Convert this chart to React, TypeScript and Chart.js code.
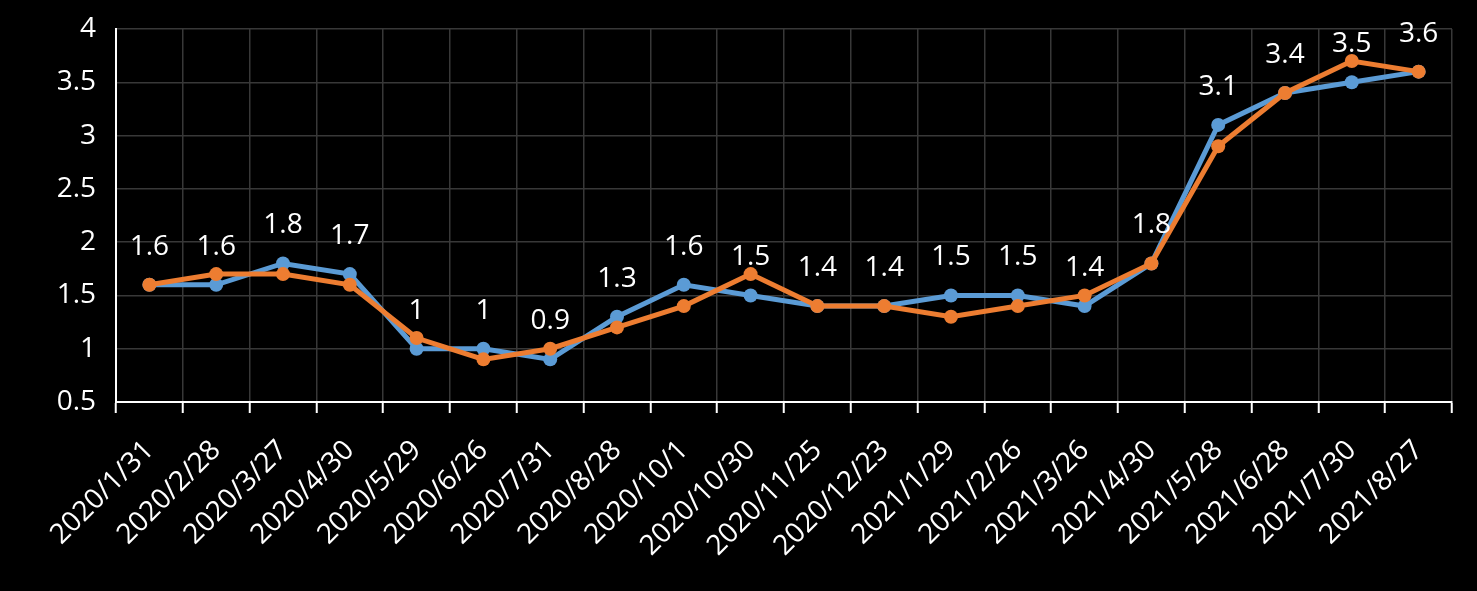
import React, { useEffect, useRef } from "react";
import { Chart, registerables } from "chart.js";

Chart.register(...registerables);

const categories = [
  "2020/1/31", "2020/2/28", "2020/3/27", "2020/4/30", "2020/5/29",
  "2020/6/26", "2020/7/31", "2020/8/28", "2020/10/1", "2020/10/30",
  "2020/11/25", "2020/12/23", "2021/1/29", "2021/2/26", "2021/3/26",
  "2021/4/30", "2021/5/28", "2021/6/28", "2021/7/30", "2021/8/27",
];

const blueValues = [1.6, 1.6, 1.8, 1.7, 1.0, 1.0, 0.9, 1.3, 1.6, 1.5, 1.4, 1.4, 1.5, 1.5, 1.4, 1.8, 3.1, 3.4, 3.5, 3.6];
const orangeValues = [1.6, 1.7, 1.7, 1.6, 1.1, 0.9, 1.0, 1.2, 1.4, 1.7, 1.4, 1.4, 1.3, 1.4, 1.5, 1.8, 2.9, 3.4, 3.7, 3.6];

const yMin = 0.5;
const yMax = 4;
const yStep = 0.5;

const FONT = "'Open Sans', 'DejaVu Sans', sans-serif";
const FONT_SIZE = 28;

const labelPlugin = {
  id: "blueLabels",
  afterDatasetsDraw(chart: any) {
    const ctx = chart.ctx;
    const idx = chart.data.datasets.findIndex((d: any) => d.label === "blue");
    const meta = chart.getDatasetMeta(idx);
    ctx.save();
    ctx.fillStyle = "#ffffff";
    ctx.font = `${FONT_SIZE}px ${FONT}`;
    ctx.textAlign = "center";
    ctx.textBaseline = "middle";
    meta.data.forEach((pt: any, i: number) => {
      const v = chart.data.datasets[idx].data[i];
      ctx.fillText(String(v), pt.x, pt.y - 38);
    });
    ctx.restore();
  },
};

export default function App() {
  const ref = useRef<HTMLCanvasElement>(null);
  useEffect(() => {
    if (!ref.current) return;
    const chart = new Chart(ref.current, {
      type: "line",
      data: {
        labels: categories,
        datasets: [
          {
            label: "orange",
            data: orangeValues,
            borderColor: "#ED7D31",
            backgroundColor: "#ED7D31",
            pointBackgroundColor: "#ED7D31",
            pointBorderWidth: 0,
            pointRadius: 7,
            borderWidth: 5,
            tension: 0,
          },
          {
            label: "blue",
            data: blueValues,
            borderColor: "#5B9BD5",
            backgroundColor: "#5B9BD5",
            pointBackgroundColor: "#5B9BD5",
            pointBorderWidth: 0,
            pointRadius: 7,
            borderWidth: 5,
            tension: 0,
          },
        ],
      },
      options: {
        responsive: false,
        animation: false,
        events: [],
        layout: { padding: { top: 29, right: 25, left: 0, bottom: 0 } },
        plugins: {
          legend: { display: false },
          tooltip: { enabled: false },
        },
        scales: {
          x: {
            offset: true,
            grid: {
              offset: true,
              color: "#383838",
              lineWidth: 1.5,
              drawTicks: true,
              tickLength: 11,
              tickColor: "#ffffff",
              tickWidth: 2,
            },
            border: { color: "#ffffff", width: 2 },
            ticks: {
              color: "#ffffff",
              font: { family: FONT, size: FONT_SIZE },
              maxRotation: 45,
              minRotation: 45,
              autoSkip: false,
              padding: 21,
            },
            afterFit(scale: any) {
              scale.height = 189;
              scale.paddingLeft = 0;
              scale.paddingRight = 0;
            },
          },
          y: {
            min: yMin,
            max: yMax,
            grid: {
              color: "#383838",
              lineWidth: 1.5,
              drawTicks: false,
            },
            border: { color: "#ffffff", width: 2 },
            ticks: {
              stepSize: yStep,
              color: "#ffffff",
              font: { family: FONT, size: FONT_SIZE },
              padding: 20,
              callback: (v: any) => String(Number(v)),
            },
            afterFit(scale: any) {
              scale.width = 116;
              scale.paddingTop = 0;
              scale.paddingBottom = 0;
            },
          },
        },
      },
      plugins: [labelPlugin],
    });
    return () => chart.destroy();
  }, []);
  return (
    <div style={{ position: "absolute", left: 0, top: 0, width: 1477, height: 591, background: "#000000" }}>
      <canvas ref={ref} width={1477} height={591} style={{ display: "block" }} />
    </div>
  );
}
